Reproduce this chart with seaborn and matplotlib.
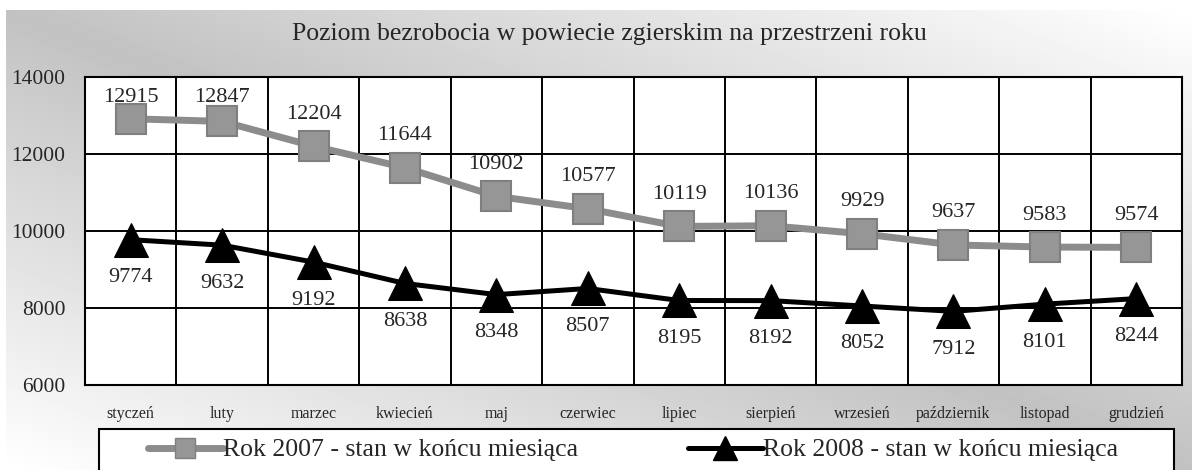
import numpy as np
import pandas as pd
import seaborn as sns
import matplotlib
import matplotlib.pyplot as plt
from matplotlib.patches import Rectangle
from matplotlib.lines import Line2D

matplotlib.use("Agg")

# dane
miesiace = ["styczeń", "luty", "marzec", "kwiecień", "maj", "czerwiec",
            "lipiec", "sierpień", "wrzesień", "październik", "listopad", "grudzień"]
rok_2007 = [12915, 12847, 12204, 11644, 10902, 10577, 10119, 10136, 9929, 9637, 9583, 9574]
rok_2008 = [9774, 9632, 9192, 8638, 8348, 8507, 8195, 8192, 8052, 7912, 8101, 8244]
etykieta_2007 = "Rok 2007 - stan w końcu miesiąca"
etykieta_2008 = "Rok 2008 - stan w końcu miesiąca"
tytul = "Poziom bezrobocia w powiecie zgierskim na przestrzeni roku"
y_ticks = [6000, 8000, 10000, 12000, 14000]

sns.set_style("white")
plt.rcParams["font.family"] = ["Liberation Serif", "DejaVu Serif"]

df = pd.DataFrame({"x": np.arange(len(miesiace)), "r2007": rok_2007, "r2008": rok_2008})

W, H = 1192, 470
fig = plt.figure(figsize=(W / 100, H / 100), dpi=100)
fig.patch.set_facecolor("white")

# tlo z gradientem (ukosnym)
bg = fig.add_axes([6 / W, 0, (W - 6) / W, (H - 10) / H], zorder=-10)
u = np.linspace(0, 1, 300)[None, :]
v = np.linspace(0, 1, 120)[:, None]
grad = 0.76 + 0.24 * np.abs(u - v)
bg.imshow(grad, cmap="gray", vmin=0, vmax=1, aspect="auto", interpolation="bilinear")
bg.axis("off")

ax = fig.add_axes([85 / W, 1 - 385 / H, (1182 - 85) / W, (385 - 77) / H])
ax.set_facecolor("white")

sns.lineplot(data=df, x="x", y="r2007", ax=ax, color="#8c8c8c", linewidth=5,
             marker="s", markersize=21, markerfacecolor="#969696",
             markeredgecolor="#7f7f7f", markeredgewidth=1.5, zorder=3)
sns.lineplot(data=df, x="x", y="r2008", ax=ax, color="black", linewidth=3.6,
             marker="^", markersize=24, markerfacecolor="black",
             markeredgecolor="black", zorder=4)

ax.set_xlim(-0.5, len(miesiace) - 0.5)
ax.set_ylim(6000, 14000)

# etykiety danych (nad seria 2007 nie wyzej niz 20 px pod gorna krawedzia)
fig.canvas.draw()
top_px = ax.transData.transform((0, 14000))[1]
for i, val in enumerate(rok_2007):
    y_px = ax.transData.transform((i, val))[1]
    off = min(32, top_px - 20 - y_px)
    ax.annotate(str(val), (i, val), xytext=(0, off), textcoords="offset pixels",
                ha="center", va="center", fontsize=16, zorder=5)
for i, val in enumerate(rok_2008):
    ax.annotate(str(val), (i, val), xytext=(0, -38), textcoords="offset pixels",
                ha="center", va="center", fontsize=16, zorder=5)

ax.set_yticks(y_ticks)
ax.set_xticks(np.arange(len(miesiace)))
ax.set_xticklabels(miesiace, fontsize=11.5)
ax.set_xticks(np.arange(len(miesiace) + 1) - 0.5, minor=True)
ax.tick_params(axis="x", which="major", length=0, pad=15)
ax.tick_params(axis="x", which="minor", length=5, width=1.5, color="black", direction="out")
ax.tick_params(axis="y", length=7, width=1.5, color="black", labelsize=15.5, pad=7, direction="out")
ax.set_xlabel("")
ax.set_ylabel("")
ax.grid(False)
ax.yaxis.grid(True, color="black", linewidth=1.4)
ax.xaxis.grid(True, which="minor", color="black", linewidth=1.4)
for s in ax.spines.values():
    s.set_color("black")
    s.set_linewidth(1.5)

fig.text(609 / W, 1 - 34 / H, tytul, ha="center", va="center", fontsize=18.5)

# legenda
fig.patches.append(Rectangle((99 / W, -0.05), (1174 - 99) / W, 0.05 + (H - 429) / H,
                             transform=fig.transFigure, facecolor="white",
                             edgecolor="black", linewidth=1.5, zorder=1))
h1 = Line2D([], [], color="#8c8c8c", linewidth=5, marker="s", markersize=15,
            markerfacecolor="#969696", markeredgecolor="#7f7f7f")
h2 = Line2D([], [], color="black", linewidth=3.6, marker="^", markersize=17,
            markerfacecolor="black")
for h, lab, x0 in [(h1, etykieta_2007, 148), (h2, etykieta_2008, 688)]:
    leg = fig.legend([h], [lab], frameon=False, loc="center left",
                     bbox_to_anchor=(x0 / W, 1 - 450 / H), fontsize=18.5,
                     handlelength=2.9, handletextpad=0.0,
                     borderpad=0, borderaxespad=0)
    leg.set_zorder(2)

fig.savefig("out.png", dpi=100)
